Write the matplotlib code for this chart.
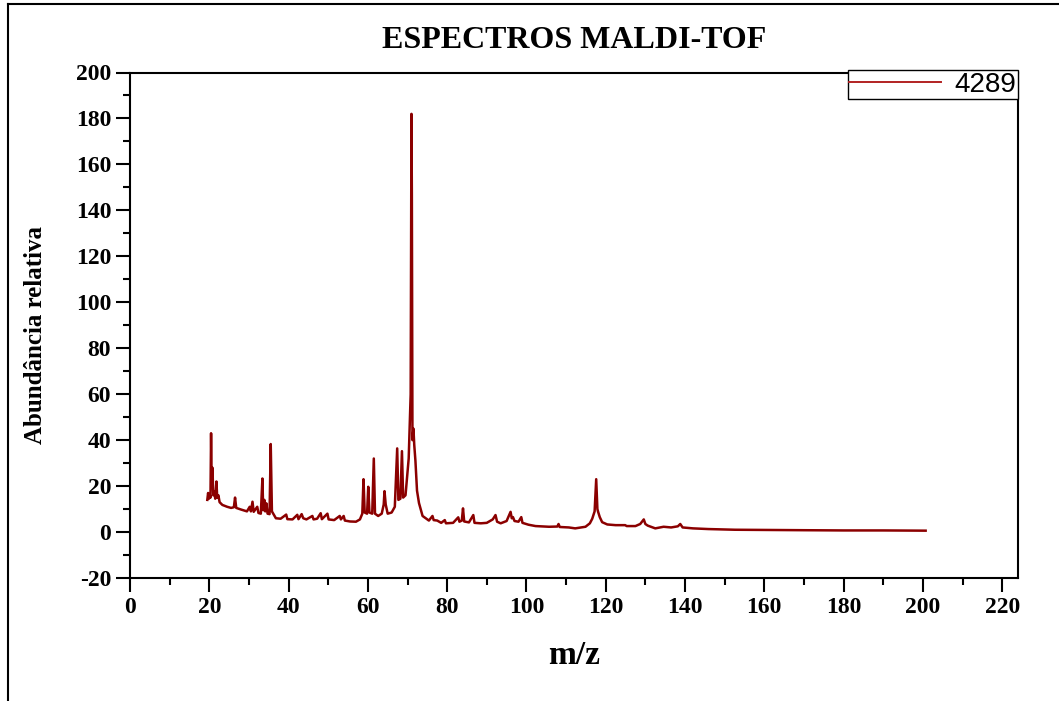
import numpy as np
import matplotlib.pyplot as plt
from matplotlib.lines import Line2D
from matplotlib.ticker import MultipleLocator

# Spectrum (m/z, relative abundance)
mz = [19.5, 19.7, 19.9, 20.1, 20.3, 20.45, 20.6, 20.8, 21.0, 21.3, 21.5, 21.8, 22.0, 22.3, 22.6,
      23.3, 24.5, 25.5, 26.2, 26.5, 26.8, 28.0, 29.5, 30.2, 30.5, 30.9, 31.2, 32.1, 32.4, 33.0,
      33.4, 33.6, 33.9, 34.1, 34.4, 34.7, 35.2, 35.5, 35.8, 36.8, 38.0, 39.4, 39.7, 41.0, 42.2,
      42.5, 43.3, 43.7, 44.5, 46.0, 46.3, 47.2, 48.1, 48.4, 49.8, 50.1, 51.5, 52.9, 53.2, 53.9,
      54.2, 55.5, 57.0, 58.0, 58.6, 58.9, 59.2, 59.8, 60.1, 60.4, 61.1, 61.5, 61.8, 62.6, 63.5,
      64.0, 64.2, 64.5, 65.0, 66.0, 66.8, 67.4, 67.7, 68.2, 68.6, 68.9, 69.5, 70.3, 70.8, 71.0,
      71.1, 71.25, 71.5, 71.7, 72.0, 72.4, 72.9, 73.8, 75.4, 76.3, 76.6, 77.5, 78.5, 79.4, 79.7,
      81.5, 82.8, 83.1, 83.7, 84.0, 84.3, 85.5, 86.6, 86.9, 88.5, 90.0, 91.5, 92.2, 92.6, 93.5,
      95.0, 96.0, 96.3, 96.6, 97.0, 98.0, 98.7, 99.0, 100.5, 102.3, 105.7, 107.8, 108.1, 108.4,
      110.7, 112.3, 114.9, 116.0, 116.6, 117.2, 117.6, 117.9, 118.1, 118.5, 119.1, 120.4, 122.5,
      124.9, 125.3, 127.5, 128.7, 129.6, 130.0, 130.6, 132.5, 134.6, 136.5, 138.2, 138.8, 139.4,
      142.0, 145.9, 152.6, 160.0, 170.0, 180.0, 190.0, 200.7]
abund = [14.0, 17.0, 14.5, 16.5, 15.0, 43.0, 20.0, 28.0, 16.0, 17.5, 14.5, 22.0, 15.0, 16.0, 13.0,
         11.8, 11.0, 10.5, 10.8, 15.0, 10.5, 9.8, 9.0, 11.0, 9.0, 13.2, 8.8, 11.0, 8.3, 8.0,
         23.3, 9.5, 14.0, 9.0, 12.5, 8.0, 7.8, 38.3, 9.0, 6.0, 5.8, 7.6, 5.6, 5.5, 7.5,
         5.6, 7.8, 6.0, 5.5, 7.0, 5.5, 5.8, 8.2, 5.6, 8.0, 5.5, 5.2, 7.0, 5.5, 7.0,
         5.0, 4.6, 4.5, 5.5, 8.0, 23.0, 8.5, 8.0, 19.7, 8.5, 8.0, 32.0, 8.0, 7.0, 8.0,
         12.0, 17.8, 12.0, 8.0, 8.5, 11.0, 36.4, 14.0, 14.5, 35.2, 15.0, 16.0, 32.0, 60.0, 182.0,
         147.0, 40.0, 45.0, 38.0, 31.0, 18.0, 12.6, 7.0, 5.0, 7.0, 5.2, 5.0, 4.0, 5.2, 3.8,
         4.0, 6.4, 4.5, 5.0, 10.3, 4.6, 4.2, 7.4, 4.0, 3.8, 4.0, 5.5, 7.4, 4.5, 3.8,
         4.8, 8.8, 6.0, 6.5, 4.8, 4.5, 6.5, 4.0, 3.2, 2.6, 2.3, 2.4, 3.5, 2.2,
         2.0, 1.6, 2.3, 3.8, 5.8, 9.0, 23.0, 10.0, 8.7, 6.5, 4.3, 3.3, 3.0,
         3.0, 2.6, 2.6, 3.5, 5.5, 3.5, 2.8, 1.6, 2.3, 2.0, 2.5, 3.5, 2.0,
         1.6, 1.3, 1.0, 0.9, 0.8, 0.7, 0.7, 0.6]

serif = ['Liberation Serif', 'DejaVu Serif']
line_color = '#8b0000'
plt.rcParams['axes.unicode_minus'] = False

fig = plt.figure(figsize=(10.59, 7.01), dpi=100)
ax = fig.add_axes([130 / 1059, 123 / 701, 888 / 1059, 505.5 / 701])

ax.plot(mz, abund, color=line_color, lw=1.8, label='4289')

ax.set_xlim(0, 224)
ax.set_ylim(-20, 200)
ax.xaxis.set_major_locator(MultipleLocator(20))
ax.xaxis.set_minor_locator(MultipleLocator(10))
ax.yaxis.set_major_locator(MultipleLocator(20))
ax.yaxis.set_minor_locator(MultipleLocator(10))
ax.tick_params(which='major', direction='out', length=10, width=1.5)
ax.tick_params(which='minor', direction='out', length=5, width=1.5)
for s in ax.spines.values():
    s.set_linewidth(1.5)
for lab in ax.get_xticklabels() + ax.get_yticklabels():
    lab.set_fontfamily(serif)
    lab.set_fontweight('bold')
    lab.set_fontsize(17)

ax.set_title('ESPECTROS MALDI-TOF', fontfamily=serif, fontweight='bold', fontsize=23, pad=18)
ax.set_xlabel('m/z', fontfamily=serif, fontweight='bold', fontsize=24, labelpad=16)
ax.set_ylabel('Abundância relativa', fontfamily=serif, fontweight='bold', fontsize=18)
ax.yaxis.set_label_coords(-0.094, 0.48)

leg = ax.legend(loc='upper right', bbox_to_anchor=(1.0, 1.004), borderaxespad=0,
                prop={'family': 'Liberation Sans', 'size': 20}, fancybox=False,
                framealpha=1, edgecolor='black', handlelength=3.3, borderpad=0.05,
                handletextpad=0.5)
leg.get_frame().set_linewidth(1.0)
leg.get_lines()[0].set_linewidth(1.4)
leg.get_lines()[0].set_color('#b22222')

# figure border (left and top edges only)
fig.add_artist(Line2D([8 / 1059, 8 / 1059], [0, 1 - 4 / 701], transform=fig.transFigure, color='black', lw=1.5))
fig.add_artist(Line2D([8 / 1059, 1], [1 - 4 / 701, 1 - 4 / 701], transform=fig.transFigure, color='black', lw=1.5))

fig.savefig('out.png', dpi=100)
